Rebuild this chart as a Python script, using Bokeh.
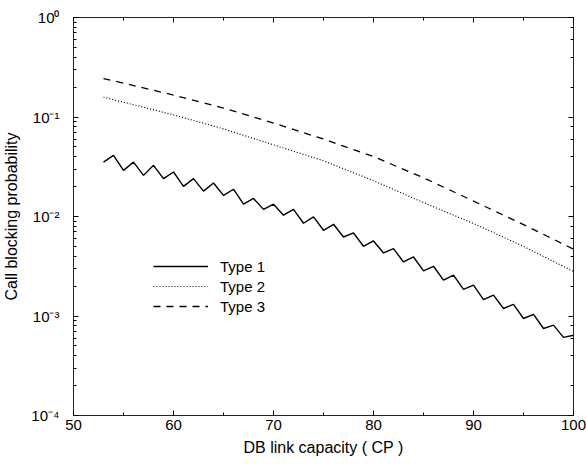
from bokeh.plotting import figure
from bokeh.models import (LogAxis, LinearAxis, CustomJSTickFormatter, Legend, LegendItem,
                          BasicTicker)
from bokeh.embed import file_html
from bokeh.resources import INLINE

# ---- data ----
cap1 = list(range(53, 101))
type1 = [0.0352, 0.0411, 0.0291, 0.0352, 0.0259, 0.0327, 0.0240, 0.0280, 0.0201, 0.0240,
         0.0180, 0.0217, 0.0163, 0.0188, 0.0133, 0.0152, 0.0118, 0.0133, 0.0103, 0.0118,
         0.00855, 0.00993, 0.00727, 0.00835, 0.00622, 0.00683, 0.00502, 0.00568, 0.00430, 0.00476,
         0.00349, 0.00392, 0.00284, 0.00316, 0.00229, 0.00257, 0.00185, 0.00204, 0.00146, 0.00162,
         0.00119, 0.00131, 0.000944, 0.00104, 0.000749, 0.000809, 0.000609, 0.000641]

cap23 = [53, 55, 60, 65, 70, 75, 80, 85, 90, 95, 100]
type2 = [0.158, 0.141, 0.105, 0.076, 0.0525, 0.0363, 0.0229, 0.0138, 0.0085, 0.0050, 0.0028]
type3 = [0.243, 0.219, 0.166, 0.123, 0.087, 0.060, 0.040, 0.0245, 0.0143, 0.0083, 0.0047]

series_labels = ["Type 1", "Type 2", "Type 3"]
x_label = "DB link capacity ( CP )"
y_label = "Call blocking probability"

FONT = "Liberation Sans"
INK = "black"

p = figure(width=586, height=464, output_backend="svg", toolbar_location=None,
           x_range=(50, 100), y_range=(1e-4, 1), y_axis_type="log",
           min_border_left=73, min_border_right=13, min_border_top=17, min_border_bottom=49)
p.grid.visible = False
p.outline_line_color = "#222222"
p.outline_line_width = 1
p.background_fill_color = "white"
p.border_fill_color = "white"

sup_js = """
const sup = {'-':'\u207b','0':'\u2070','1':'\u00b9','2':'\u00b2','3':'\u00b3','4':'\u2074',
             '5':'\u2075','6':'\u2076','7':'\u2077','8':'\u2078','9':'\u2079'};
const e = Math.round(Math.log10(tick));
return '10' + String(e).split('').map(c => sup[c]).join('');
"""
blank_js = "return '';"

xa = p.xaxis[0]
xa.ticker = BasicTicker(desired_num_ticks=6, num_minor_ticks=2)
xa.axis_label = x_label
xa.major_label_standoff = 4
xa.axis_label_standoff = 6

ya = p.yaxis[0]
ya.formatter = CustomJSTickFormatter(code=sup_js)
ya.axis_label = y_label
ya.major_label_standoff = 14
ya.axis_label_standoff = 8

for ax in [xa, ya]:
    ax.axis_label_text_font = FONT
    ax.axis_label_text_font_size = "16px"
    ax.axis_label_text_font_style = "normal"
    ax.axis_label_text_color = INK
    ax.major_label_text_font = FONT
    ax.major_label_text_font_size = "15px"
    ax.major_label_text_color = INK
    ax.major_tick_in = 5
    ax.major_tick_out = 0
    ax.minor_tick_in = 3
    ax.minor_tick_out = 0
    ax.major_tick_line_color = INK
    ax.minor_tick_line_color = INK
    ax.axis_line_color = None

ra = LogAxis(formatter=CustomJSTickFormatter(code=blank_js), major_tick_in=5, major_tick_out=0,
             minor_tick_in=3, minor_tick_out=0, axis_line_color=None,
             major_tick_line_color=INK, minor_tick_line_color=INK,
             major_label_text_font_size="1px", major_label_standoff=0)
p.add_layout(ra, "right")
ta = LinearAxis(ticker=BasicTicker(desired_num_ticks=6, num_minor_ticks=2),
                formatter=CustomJSTickFormatter(code=blank_js), major_tick_in=5, major_tick_out=0,
                minor_tick_in=3, minor_tick_out=0, axis_line_color=None,
                major_tick_line_color=INK, minor_tick_line_color=INK,
                major_label_text_font_size="1px", major_label_standoff=0)
p.add_layout(ta, "above")

r1 = p.line(cap1, type1, line_color=INK, line_width=1.4)
r2 = p.line(cap23, type2, line_color=INK, line_width=1.2, line_dash="1 2")
r3 = p.line(cap23, type3, line_color=INK, line_width=1.3, line_dash="7 6")

legend = Legend(items=[LegendItem(label=series_labels[0], renderers=[r1]),
                       LegendItem(label=series_labels[1], renderers=[r2]),
                       LegendItem(label=series_labels[2], renderers=[r3])],
                location=(80, 99), padding=0, margin=0, spacing=0,
                glyph_width=55, glyph_height=20, label_height=20, label_standoff=12,
                border_line_color=None, background_fill_alpha=0,
                label_text_font=FONT, label_text_font_size="15px", label_text_color=INK)
p.add_layout(legend)

open("out.html", "w").write(file_html(p, INLINE))
